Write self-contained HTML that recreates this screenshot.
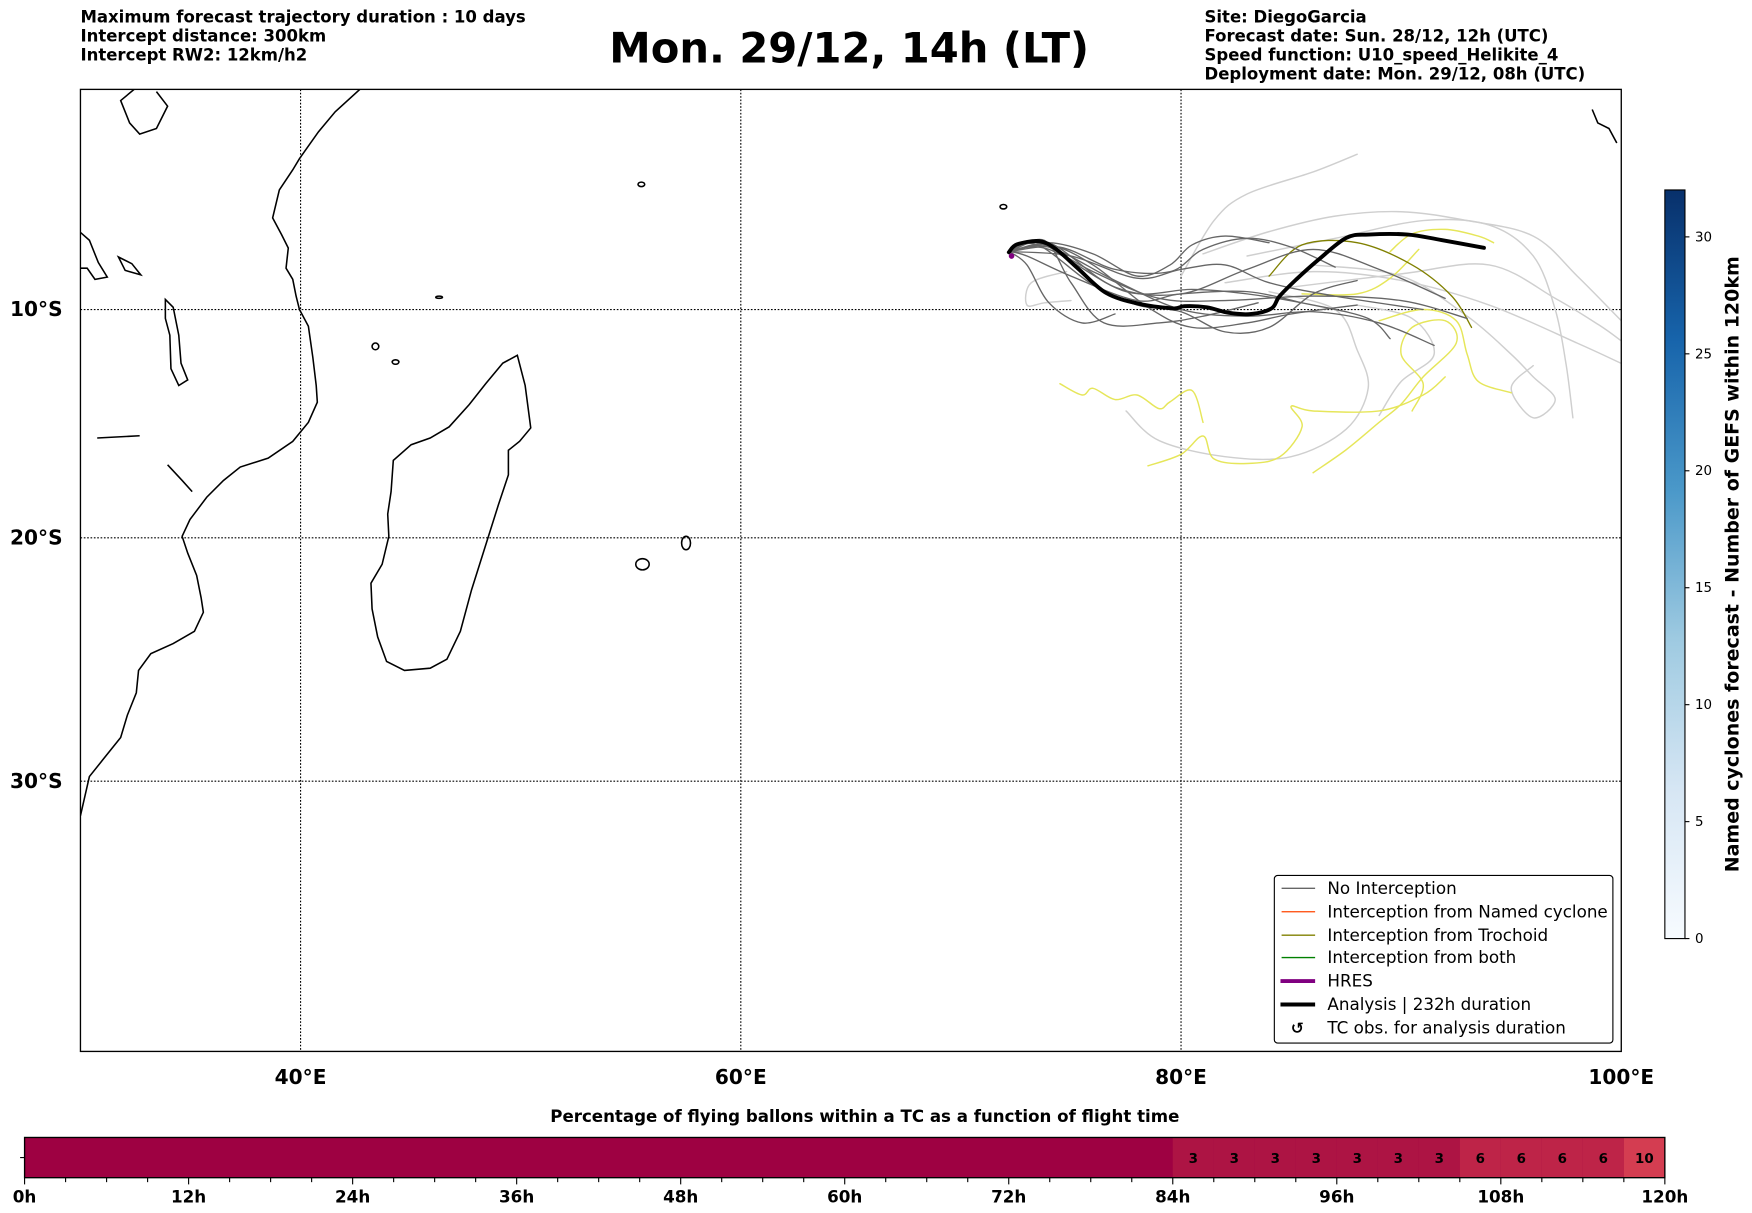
<!DOCTYPE html>
<html><head><meta charset="utf-8"><style>
html,body{margin:0;padding:0;background:#fff}
svg{display:block}
text{font-family:"DejaVu Sans","Liberation Sans",sans-serif}
</style></head><body>
<svg id="fig" width="1752" height="1213" viewBox="0 0 1568 1085.6" xmlns="http://www.w3.org/2000/svg">
<defs>
<linearGradient id="blues" x1="0" y1="1" x2="0" y2="0">
<stop offset="0" stop-color="#f7fbff"/><stop offset="0.2" stop-color="#d6e6f4"/><stop offset="0.4" stop-color="#9ecae1"/><stop offset="0.6" stop-color="#4a98c9"/><stop offset="0.8" stop-color="#1764ab"/><stop offset="1" stop-color="#08306b"/>
</linearGradient>
<clipPath id="mapclip"><rect x="72" y="80" width="1379" height="861"/></clipPath>
</defs>
<g font-weight="bold" font-size="14.8">
<text x="72" y="20">Maximum forecast trajectory duration : 10 days</text>
<text x="72" y="37">Intercept distance: 300km</text>
<text x="72" y="54">Intercept RW2: 12km/h2</text>
</g>
<text x="760" y="56" font-size="37.3" font-weight="bold" text-anchor="middle">Mon. 29/12, 14h (LT)</text>
<g font-weight="bold" font-size="14.8">
<text x="1078" y="20">Site: DiegoGarcia</text>
<text x="1078" y="37">Forecast date: Sun. 28/12, 12h (UTC)</text>
<text x="1078" y="54">Speed function: U10_speed_Helikite_4</text>
<text x="1078" y="71">Deployment date: Mon. 29/12, 08h (UTC)</text>
</g>
<g id="map" clip-path="url(#mapclip)">
<g fill="none" stroke="#000" stroke-width="1.4">
<path d="M322,80 L300,100 L285,118 L268,142 L262,152 L250,170 L244,195 L252,210 L258,222 L256,240 L262,250 L265,265 L268,277 L276,292 L280,320 L283,345 L284,360 L276,378 L262,395 L240,410 L215,418 L200,430 L185,445 L170,465 L163,480 L168,495 L176,515 L180,535 L182,548 L174,565 L155,576 L135,585 L124,600 L122,620 L114,640 L108,660 L92,680 L80,695 L72,730"/>
<path d="M463,318 L470,345 L475,383 L465,395 L455,403 L455,425 L446,452 L434,490 L422,528 L412,565 L400,590 L385,598 L362,600 L346,592 L338,570 L333,545 L332,522 L342,505 L348,480 L347,460 L350,440 L352,412 L368,398 L385,392 L402,382 L420,362 L435,343 L450,325 Z"/>
<path d="M72,208 L80,215 L88,235 L96,248 L85,250 L78,240 L72,240"/>
<path d="M148,268 L155,275 L160,300 L162,325 L168,340 L160,345 L153,330 L152,300 L148,285 Z"/>
<path d="M87,392 L125,390"/>
<path d="M150,416 L163,430 L172,440"/>
<path d="M106,230 L118,236 L126,246 L112,242 Z"/>
<path d="M120,80 L108,90 L116,110 L125,120 L140,115 L150,95 L140,82"/>
<ellipse cx="575" cy="505" rx="6" ry="5"/><ellipse cx="614" cy="486" rx="4" ry="6"/>
<ellipse cx="336" cy="310" rx="3" ry="3"/><ellipse cx="354" cy="324" rx="3" ry="2"/>
<ellipse cx="574" cy="165" rx="3" ry="2"/><path d="M1425,98 L1430,110 L1440,115 L1447,128"/>
<ellipse cx="898" cy="185" rx="3" ry="2"/><ellipse cx="393" cy="266" rx="3" ry="1"/>
</g>
<g stroke="#000" stroke-width="1" stroke-dasharray="1.5,1.5" fill="none" id="grid"></g>
<g id="traj" fill="none" stroke-linejoin="round" stroke-linecap="round"></g>
</g>
<rect x="72" y="80" width="1379" height="861" fill="none" stroke="#000" stroke-width="1.2"/>
<g id="axlabels" font-size="18" font-weight="bold"></g>
<g font-size="15">
<rect x="1140.5" y="783.5" width="303" height="150" rx="3" fill="#fff" stroke="#000" stroke-width="1"/>
<line x1="1147" y1="795" x2="1177" y2="795" stroke="#666" stroke-width="1.2"/><text x="1188" y="800">No Interception</text>
<line x1="1147" y1="816" x2="1177" y2="816" stroke="#ff4500" stroke-width="1.2"/><text x="1188" y="821">Interception from Named cyclone</text>
<line x1="1147" y1="837" x2="1177" y2="837" stroke="#808000" stroke-width="1.2"/><text x="1188" y="842">Interception from Trochoid</text>
<line x1="1147" y1="857" x2="1177" y2="857" stroke="#008000" stroke-width="1.2"/><text x="1188" y="862">Interception from both</text>
<line x1="1146" y1="878" x2="1177" y2="878" stroke="#800080" stroke-width="3.5"/><text x="1188" y="883">HRES</text>
<line x1="1146" y1="899" x2="1177" y2="899" stroke="#000" stroke-width="3.5"/><text x="1188" y="904">Analysis | 232h duration</text>
<text x="1161" y="925" text-anchor="middle" font-weight="bold" font-size="14">↺</text><text x="1188" y="925">TC obs. for analysis duration</text>
</g>
<g>
<rect x="1490" y="170" width="18" height="670" fill="url(#blues)" stroke="#000" stroke-width="1"/>
<g id="cbticks" font-size="12"></g>
<text transform="translate(1556,505) rotate(-90)" text-anchor="middle" font-size="17" font-weight="bold">Named cyclones forecast - Number of GEFS within 120km</text>
</g>
<text x="774" y="1004" text-anchor="middle" font-size="14.9" font-weight="bold">Percentage of flying ballons within a TC as a function of flight time</text>
<g id="pbar"></g>
</svg>
<script>
// ---- data ----
const analysisLon=[72.18,72.54,73.55,74.31,75.33,76.60,78.12,79.65,80.15,81.17,82.18,83.20,84.11,84.47,85.23,86.24,87.51,88.53,90.30,91.83,93.76];
const analysisLat=[-7.43,-7.08,-6.93,-7.28,-8.17,-9.26,-9.75,-9.95,-9.85,-9.90,-10.15,-10.20,-9.95,-9.41,-8.66,-7.77,-6.78,-6.63,-6.63,-6.88,-7.23];
const noInterceptTracks=[
[[72.2,-7.4],[73.5,-7],[76,-8.3],[79,-9.5],[82,-9.6],[86,-9.4],[90,-9.6],[93,-10.4]],
[[72.2,-7.4],[74,-7],[77,-9],[80,-9.3],[83,-8.2],[86,-7.3],[89,-8.2],[92,-9.5]],
[[72.2,-7.4],[74,-7.1],[76,-8],[78.5,-9.9],[80.5,-10.8],[83,-10.6],[85,-10.2],[88,-9.8]],
[[72.2,-7.4],[73.8,-6.9],[75,-8.8],[76.5,-10.6],[79,-10.6],[81,-10.3],[83.5,-9.7]],
[[72.2,-7.4],[74.5,-7.2],[77,-8.2],[79.5,-8.3],[81,-7.3],[83,-6.8],[85,-7.2],[87,-8.1]],
[[72.2,-7.4],[74,-7.3],[77.5,-9.2],[80.5,-9.1],[83,-9.3],[86,-9.8],[88.5,-10.4],[89.5,-11.3]],
[[72.2,-7.4],[73.5,-7.1],[76,-8.9],[78,-9.8],[80,-10.1],[82,-11],[84,-10.8],[86,-9.3],[88,-8.7]],
[[72.2,-7.4],[75,-7.6],[78,-8.6],[80,-8.2],[82,-8],[84,-8.8],[87,-9.4],[91,-10]],
[[72.2,-7.4],[73,-7.6],[75,-8.5],[78,-9.6],[80,-9.3],[83,-9.2],[85.5,-9.7]],
[[72.2,-7.4],[74,-7],[76,-7.5],[78,-8.5],[79.5,-8],[80.5,-7.1],[82,-6.7],[84,-7]],
[[72.2,-7.4],[73,-8],[74,-9.7],[75.5,-10.6],[77,-10.2]],
[[72.2,-7.4],[74,-7.2],[77,-8.7],[80,-10],[83,-10.3],[86,-10.1],[89,-10.6],[91.5,-11.6]]
];
const lateTracks=[
[[74.8,-8.3],[73.2,-8.8],[73,-9.8],[73.8,-9.7],[75,-9.6]],
[[80,-8.5],[81.5,-6],[83,-4.8],[86,-3.8],[88,-3.0]],
[[81,-7.5],[84,-6.5],[87,-5.8],[90,-5.6],[93,-6],[96,-6.7],[98,-8.5],[100,-10.5]],
[[82,-8.8],[86,-8.3],[90,-8.7],[94,-9.8],[98,-11.5],[100,-12.4]],
[[84,-9.2],[87,-10],[88,-11.8],[88.5,-13.5],[87.5,-15.3],[85,-16.5],[82,-16.5],[79,-15.8],[77.5,-14.5]],
[[86,-8],[90,-8.5],[93,-10.3],[95,-12],[96,-13],[97,-14],[96,-14.8],[95,-13.5],[96,-12.5]],
[[85,-9],[90,-8.4],[94,-8],[97,-9.5],[99,-10.7],[100,-11.4]],
[[83,-7.6],[87,-6.8],[91,-6],[94,-6.2],[96,-7.6],[97,-10],[97.5,-12.5],[97.8,-14.8]],
[[88,-9.8],[90.5,-10.4],[91.5,-12],[90,-13.2],[89,-14.7]]
];
const cycloneTracks=[
[[74.5,-13.3],[75.5,-13.8],[76,-13.5],[77,-14],[78,-13.8],[79,-14.4],[79.5,-14.1],[80.5,-13.6],[81,-15]],
[[78.5,-16.9],[80,-16.4],[81,-15.6],[81.5,-16.6],[83,-16.8],[84.5,-16.5],[85.5,-15.2],[85,-14.3],[86,-14.5],[89,-14.5],[91,-13.8],[92,-13.0]],
[[86,-17.2],[87.5,-16.2],[89,-15],[90,-14.2],[91,-13],[92.5,-11.5],[92,-10.5],[90.5,-10.8],[90,-12],[91,-13.3],[90.5,-14.5]],
[[89.5,-7.4],[90.5,-6.6],[92,-6.4],[93.5,-6.7],[94.2,-7]],
[[89,-10.5],[91,-10],[92.5,-10.5],[93,-12],[93.5,-13.2],[95,-13.7]],
[[90.8,-7.3],[89.5,-8.6],[88,-9.3],[85.5,-9.3]]
];
const trochoidTracks=[
[[93.2,-10.8],[92.3,-9.4],[90.5,-8],[88,-7],[85.5,-7.1],[84,-8.5]]
];
const lonTicks=[40,60,80,100];
const latTicks=[-10,-20,-30];
const cbTicks=[0,5,10,15,20,25,30];
const pctHours=[84,87,90,93,96,99,102,105,108,111,114,117];
const pctValues=[3,3,3,3,3,3,3,6,6,6,6,10];
const hourTicks=[0,12,24,36,48,60,72,84,96,108,120];

// ---- axes ----
const NS='http://www.w3.org/2000/svg';
const merc=l=>Math.log(Math.tan(Math.PI/4+(-l)*Math.PI/360));
const X=lon=>72+(lon-30)*19.7;
const Y=lat=>277+1129*(merc(lat)-merc(-10));
const H=h=>22+h*(1468/120);
const CB=v=>840-v*(628/30);
function mk(tag,attrs,parent){const e=document.createElementNS(NS,tag);for(const k in attrs)e.setAttribute(k,attrs[k]);parent.appendChild(e);return e;}
const grid=document.getElementById('grid'),traj=document.getElementById('traj'),axl=document.getElementById('axlabels');
lonTicks.forEach(l=>{
 if(l<100){const g=mk('line',{x1:X(l),x2:X(l),y1:80,y2:941},grid);}
 const t=mk('text',{x:X(l),y:970,'text-anchor':'middle'},axl);t.textContent=l+'°E';
 
 
});
latTicks.forEach(l=>{
 const g=mk('line',{x1:72,x2:1451,y1:Y(l),y2:Y(l)},grid);
 
 
 const t=mk('text',{x:56,y:Y(l)+6,'text-anchor':'end'},axl);t.textContent=(-l)+'°S';
 
 
});
// smooth Catmull-Rom path through projected points
function path(track){
 const p=track.map(q=>[X(q[0]),Y(q[1])]);
 let d='M'+p[0][0].toFixed(1)+','+p[0][1].toFixed(1);
 for(let i=0;i<p.length-1;i++){
  const p0=p[i-1]||p[i],p1=p[i],p2=p[i+1],p3=p[i+2]||p2;
  const c1=[p1[0]+(p2[0]-p0[0])/6,p1[1]+(p2[1]-p0[1])/6];
  const c2=[p2[0]-(p3[0]-p1[0])/6,p2[1]-(p3[1]-p1[1])/6];
  d+=' C'+c1.map(v=>v.toFixed(1)).join(',')+' '+c2.map(v=>v.toFixed(1)).join(',')+' '+p2[0].toFixed(1)+','+p2[1].toFixed(1);
 }
 return d;
}
lateTracks.forEach((t,i)=>{const p=mk('path',{d:path(t),stroke:'#cfcfcf','stroke-width':1.3},traj);
 
 });
cycloneTracks.forEach((t,i)=>{const p=mk('path',{d:path(t),stroke:'#e6e65a','stroke-width':1.3},traj);
 
 });
trochoidTracks.forEach((t,i)=>{const p=mk('path',{d:path(t),stroke:'#808000','stroke-width':1.2},traj);
 
 });
noInterceptTracks.forEach((t,i)=>{const p=mk('path',{d:path(t),stroke:'#666','stroke-width':1.2},traj);
 
 });
const an=mk('path',{d:path(analysisLon.map((l,i)=>[l,analysisLat[i]])),stroke:'#000','stroke-width':3.5},traj);


const st=mk('circle',{cx:X(72.3),cy:Y(-7.6),r:2.5,fill:'#800080'},traj);



// colorbar ticks
const cbt=document.getElementById('cbticks');
cbTicks.forEach(v=>{mk('line',{x1:1508,x2:1512,y1:CB(v),y2:CB(v),stroke:'#000'},cbt);
 const t=mk('text',{x:1517,y:CB(v)+4},cbt);t.textContent=v;
 
 });

// percentage bar
const pb=document.getElementById('pbar');
const color=v=>v>=10?'#d43d51':v>=6?'#be2448':v>=3?'#ad1444':'#9e0142';
const base=mk('rect',{x:H(0),y:1018,width:H(120)-H(0),height:36,fill:color(0)},pb);


pctHours.forEach((h,i)=>{
 const r=mk('rect',{x:H(h),y:1018,width:H(h+3)-H(h),height:36,fill:color(pctValues[i])},pb);
 
 
 const t=mk('text',{x:(H(h)+H(h+3))/2,y:1041,'text-anchor':'middle','font-size':12,'font-weight':'bold'},pb);t.textContent=pctValues[i];
 
 
});
mk('rect',{x:H(0),y:1018,width:H(120)-H(0),height:36,fill:'none',stroke:'#000','stroke-width':1.2},pb);
mk('line',{x1:18,x2:22,y1:1036,y2:1036,stroke:'#000'},pb);
for(let h=0;h<=120;h+=3){mk('line',{x1:H(h),x2:H(h),y1:1054,y2:h%12?1058:1060,stroke:'#000'},pb);}
hourTicks.forEach(h=>{const t=mk('text',{x:H(h),y:1076,'text-anchor':'middle','font-size':15,'font-weight':'bold'},pb);t.textContent=h+'h';
 
 });
</script>
</body></html>
